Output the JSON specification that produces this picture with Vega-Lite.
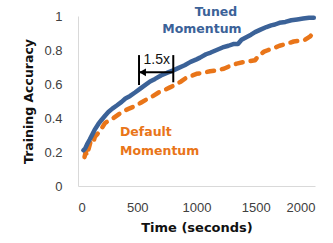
{
  "$schema": "https://vega.github.io/schema/vega-lite/v6.json",
  "width": 237,
  "height": 170,
  "autosize": "none",
  "padding": {"left": 78, "top": 16, "right": 18, "bottom": 57},
  "background": "white",
  "config": {
    "view": {"stroke": null},
    "axis": {
      "grid": false,
      "ticks": false,
      "domainColor": "#d9d9d9",
      "domainWidth": 1,
      "labelFont": "Liberation Sans",
      "labelFontSize": 13,
      "labelColor": "#404040",
      "labelOverlap": false,
      "labelBound": false,
      "titleFont": "DejaVu Sans",
      "titleFontWeight": "bold",
      "titleColor": "#111111"
    }
  },
  "datasets": {
    "tuned": [
      {"t": 45, "acc": 0.21}, {"t": 60, "acc": 0.22}, {"t": 80, "acc": 0.25}, {"t": 100, "acc": 0.275},
      {"t": 115, "acc": 0.295}, {"t": 140, "acc": 0.33}, {"t": 172, "acc": 0.365}, {"t": 200, "acc": 0.39},
      {"t": 230, "acc": 0.415}, {"t": 256, "acc": 0.435}, {"t": 290, "acc": 0.455}, {"t": 330, "acc": 0.475},
      {"t": 368, "acc": 0.495}, {"t": 400, "acc": 0.515}, {"t": 440, "acc": 0.53}, {"t": 481, "acc": 0.55},
      {"t": 520, "acc": 0.57}, {"t": 560, "acc": 0.59}, {"t": 608, "acc": 0.615}, {"t": 650, "acc": 0.63},
      {"t": 700, "acc": 0.65}, {"t": 750, "acc": 0.665}, {"t": 804, "acc": 0.68}, {"t": 850, "acc": 0.695},
      {"t": 900, "acc": 0.71}, {"t": 950, "acc": 0.73}, {"t": 1000, "acc": 0.745}, {"t": 1030, "acc": 0.755},
      {"t": 1080, "acc": 0.775}, {"t": 1120, "acc": 0.785}, {"t": 1170, "acc": 0.8}, {"t": 1220, "acc": 0.815},
      {"t": 1270, "acc": 0.825}, {"t": 1310, "acc": 0.835}, {"t": 1350, "acc": 0.835}, {"t": 1380, "acc": 0.86},
      {"t": 1420, "acc": 0.875}, {"t": 1460, "acc": 0.89}, {"t": 1494, "acc": 0.905}, {"t": 1540, "acc": 0.92},
      {"t": 1590, "acc": 0.935}, {"t": 1630, "acc": 0.945}, {"t": 1662, "acc": 0.95}, {"t": 1700, "acc": 0.96},
      {"t": 1750, "acc": 0.965}, {"t": 1800, "acc": 0.975}, {"t": 1850, "acc": 0.98}, {"t": 1900, "acc": 0.985},
      {"t": 1950, "acc": 0.99}, {"t": 1990, "acc": 0.99}
    ],
    "default": [
      {"t": 55, "acc": 0.17}, {"t": 65, "acc": 0.2}, {"t": 75, "acc": 0.18}, {"t": 90, "acc": 0.22},
      {"t": 110, "acc": 0.27}, {"t": 130, "acc": 0.26}, {"t": 143, "acc": 0.29}, {"t": 170, "acc": 0.31},
      {"t": 200, "acc": 0.34}, {"t": 228, "acc": 0.37}, {"t": 260, "acc": 0.385}, {"t": 300, "acc": 0.4},
      {"t": 340, "acc": 0.42}, {"t": 380, "acc": 0.44}, {"t": 430, "acc": 0.455}, {"t": 481, "acc": 0.47},
      {"t": 530, "acc": 0.49}, {"t": 580, "acc": 0.51}, {"t": 622, "acc": 0.525}, {"t": 680, "acc": 0.55},
      {"t": 730, "acc": 0.565}, {"t": 776, "acc": 0.58}, {"t": 820, "acc": 0.595}, {"t": 870, "acc": 0.615},
      {"t": 910, "acc": 0.635}, {"t": 945, "acc": 0.645}, {"t": 1000, "acc": 0.66}, {"t": 1050, "acc": 0.665},
      {"t": 1114, "acc": 0.675}, {"t": 1170, "acc": 0.68}, {"t": 1230, "acc": 0.69}, {"t": 1280, "acc": 0.705},
      {"t": 1339, "acc": 0.72}, {"t": 1400, "acc": 0.73}, {"t": 1450, "acc": 0.735}, {"t": 1494, "acc": 0.74},
      {"t": 1530, "acc": 0.77}, {"t": 1570, "acc": 0.79}, {"t": 1606, "acc": 0.8}, {"t": 1650, "acc": 0.81},
      {"t": 1700, "acc": 0.825}, {"t": 1775, "acc": 0.84}, {"t": 1820, "acc": 0.85}, {"t": 1870, "acc": 0.855},
      {"t": 1916, "acc": 0.86}, {"t": 1960, "acc": 0.88}, {"t": 2000, "acc": 0.915}
    ],
    "bars": [
      {"t": 515, "lo": 0.594, "hi": 0.77},
      {"t": 804, "lo": 0.61, "hi": 0.77}
    ],
    "arrow": [{"t1": 515, "t2": 804, "acc": 0.669, "head": 545}],
    "ratio": [{"t": 664, "acc": 0.741, "label": "1.5x"}],
    "blueText": [
      {"t": 1165, "acc": 1.022, "label": "Tuned"},
      {"t": 1046, "acc": 0.922, "label": "Momentum"}
    ],
    "orangeText": [
      {"t": 354, "acc": 0.318, "label": "Default"},
      {"t": 354, "acc": 0.208, "label": "Momentum"}
    ]
  },
  "encoding": {
    "x": {"field": "t", "type": "quantitative", "scale": {"domain": [0, 2000], "nice": false},
      "axis": {"values": [0, 500, 1000, 1500, 2000], "format": "d", "title": "Time (seconds)", "titleFontSize": 13, "labelPadding": 15, "titlePadding": 7, "labelOverlap": false}},
    "y": {"field": "acc", "type": "quantitative", "scale": {"domain": [0, 1], "nice": false},
      "axis": {"values": [0, 0.2, 0.4, 0.6, 0.8, 1], "format": "~g", "title": "Training Accuracy", "titleFontSize": 12.5, "labelPadding": 16, "titlePadding": 8, "labelOverlap": false, "labelFlush": false}}
  },
  "layer": [
    {
      "data": {"name": "default"},
      "mark": {"type": "line", "color": "#e97519", "strokeWidth": 4.5, "strokeDash": [7, 8], "strokeCap": "round", "strokeJoin": "round"}
    },
    {
      "data": {"name": "tuned"},
      "mark": {"type": "line", "color": "#3b6298", "strokeWidth": 4.5, "strokeJoin": "round", "strokeCap": "round"}
    },
    {
      "data": {"name": "bars"},
      "mark": {"type": "rule", "color": "black", "strokeWidth": 2},
      "encoding": {
        "y": {"field": "lo", "type": "quantitative"},
        "y2": {"field": "hi"}
      }
    },
    {
      "data": {"name": "arrow"},
      "mark": {"type": "rule", "color": "black", "strokeWidth": 2},
      "encoding": {
        "x": {"field": "t1", "type": "quantitative"},
        "x2": {"field": "t2"}
      }
    },
    {
      "data": {"name": "arrow"},
      "mark": {"type": "point", "shape": "triangle-left", "filled": true, "color": "black", "size": 60, "opacity": 1},
      "encoding": {
        "x": {"field": "head", "type": "quantitative"}
      }
    },
    {
      "data": {"name": "ratio"},
      "mark": {"type": "text", "font": "Liberation Sans", "fontSize": 14, "color": "#111111", "baseline": "middle", "align": "center"},
      "encoding": {
        "text": {"field": "label"}
      }
    },
    {
      "data": {"name": "blueText"},
      "mark": {"type": "text", "font": "DejaVu Sans", "fontWeight": "bold", "fontSize": 12.5, "color": "#3b6298", "baseline": "middle", "align": "center"},
      "encoding": {
        "text": {"field": "label"}
      }
    },
    {
      "data": {"name": "orangeText"},
      "mark": {"type": "text", "font": "DejaVu Sans", "fontWeight": "bold", "fontSize": 12.5, "color": "#e97519", "baseline": "middle", "align": "left"},
      "encoding": {
        "text": {"field": "label"}
      }
    }
  ]
}
